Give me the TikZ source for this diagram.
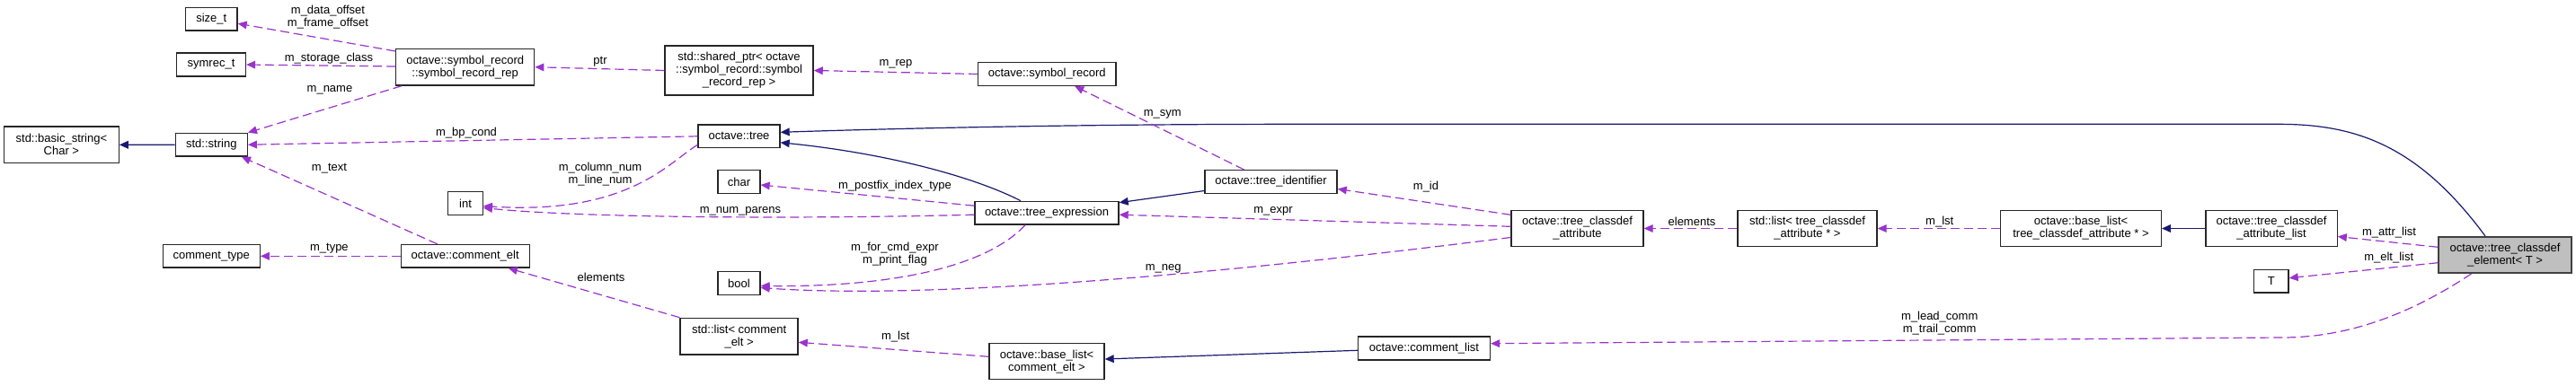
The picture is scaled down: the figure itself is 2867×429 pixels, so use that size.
\documentclass[tikz,border=0pt]{standalone}
\usepackage{fontspec}
\setmainfont{Liberation Sans}
\usetikzlibrary{arrows.meta,calc}

\definecolor{usecol}{HTML}{9A32CD}
\definecolor{inhcol}{HTML}{191970}

\tikzset{
    cls/.style={draw=black!85, line width=1pt, fill=white, align=center,
        inner sep=0pt, minimum height=#1*0.75pt},
    cls/.default=25.7,
    wd/.style={minimum width=#1*0.75pt},
    lbl/.style={inner sep=0pt, align=center},
    uses/.style={usecol, line width=0.9pt, dash pattern=on 7.5pt off 3.75pt,
        -{Triangle[length=7.5pt,width=6.5pt]}},
    inherits/.style={inhcol, line width=0.9pt,
        -{Triangle[length=7.5pt,width=6.5pt]}}
}

\begin{document}
\begin{tikzpicture}[x=0.75pt, y=-0.75pt, font=\fontsize{9.75}{10.5}\selectfont]

    \useasboundingbox (0,0) rectangle (2867,429);

    % Classes, one column after the other
    \node[cls, wd=127.6, cls=40.7] (bstr) at (68.4,161.3) {std::basic\_string\textless\\Char \textgreater};

    \node[cls, wd=57.4] (sizet) at (235.3,21.2) {size\_t};
    \node[cls, wd=77] (symrect) at (235,72) {symrec\_t};
    \node[cls, wd=80] (string) at (235.3,161.2) {std::string};
    \node[cls, wd=108] (ctype) at (235.2,285.3) {comment\_type};

    \node[cls, wd=154, cls=40.7] (rep) at (517.7,74.7) {octave::symbol\_record\\::symbol\_record\_rep};
    \node[cls, wd=38.6] (int) at (518,226.5) {int};
    \node[cls, wd=143] (celt) at (517.7,285.3) {octave::comment\_elt};

    \node[cls, wd=165, cls=55] (shared) at (822.6,78.5) {std::shared\_ptr\textless{} octave\\::symbol\_record::symbol\\\_record\_rep \textgreater};
    \node[cls, wd=91] (tree) at (822.5,151.8) {octave::tree};
    \node[cls, wd=47] (char) at (822.5,202.5) {char};
    \node[cls, wd=47] (bool) at (822.5,315.5) {bool};
    \node[cls, wd=131, cls=40.7] (lce) at (822.6,374.7) {std::list\textless{} comment\\\_elt \textgreater};

    \node[cls, wd=153.4] (symrec) at (1165.2,82.5) {octave::symbol\_record};
    \node[cls, wd=160] (texpr) at (1165,237.2) {octave::tree\_expression};
    \node[cls, wd=128, cls=40] (blc) at (1165,402.7) {octave::base\_list\textless\\comment\_elt \textgreater};

    \node[cls, wd=147] (tid) at (1414.6,202.5) {octave::tree\_identifier};
    \node[cls, wd=147] (clist) at (1585,388) {octave::comment\_list};

    \node[cls, wd=147, cls=40.4] (tca) at (1755.5,254.5) {octave::tree\_classdef\\\_attribute};
    \node[cls, wd=155, cls=40.4] (ltca) at (2011.5,254.5) {std::list\textless{} tree\_classdef\\\_attribute * \textgreater};
    \node[cls, wd=178.6, cls=40.4] (bltca) at (2316,254.5) {octave::base\_list\textless\\tree\_classdef\_attribute * \textgreater};
    \node[cls, wd=146.3, cls=40.4] (tcal) at (2528,254.5) {octave::tree\_classdef\\\_attribute\_list};
    \node[cls, wd=38.5] (T) at (2527.8,313.2) {T};

    \node[cls, wd=147.3, cls=40, fill=black!25, draw=black!75, line width=1.5pt] (elem) at (2788,284) {octave::tree\_classdef\\\_element\textless{} T \textgreater};

    % Inheritance
    \draw[inherits] (string.west) -- (bstr.east);
    \draw[inherits] ($(texpr.north)+(-29,0)$) .. controls (1080,195) and (980,170) .. ($(tree.east)+(0,7)$);
    \draw[inherits] ($(tid.west)+(0,10)$) -- ($(texpr.north east)+(0,2)$);
    \draw[inherits] ($(elem.north)+(-22,0)$) .. controls (2690,160) and (2620,138.3) .. (2535,138.3)
        -- (1450,138.3) .. controls (1200,138.3) and (1000,143) .. ($(tree.east)+(0,-4.5)$);
    \draw[inherits] ($(clist.west)+(0,2.3)$) -- ($(blc.east)+(0,-2.7)$);
    \draw[inherits] (tcal.west) -- (bltca.east);

    % Members
    \draw[uses] ($(rep.west)+(0,-17.7)$) -- ($(sizet.east)+(0,5)$);
    \draw[uses] ($(rep.west)+(0,-0.7)$) -- (symrect.east);
    \draw[uses] ($(rep.south west)+(7,0)$) -- (string.north east);
    \draw[uses] (shared.west) -- (rep.east);
    \draw[uses] (symrec.west) -- (shared.east);
    \draw[uses] (tree.west) -- (string.east);
    \draw[uses] ($(tree.south west)+(0,-4)$) .. controls (745,180) and (700,240) .. ($(int.east)+(0,3)$);
    \draw[uses] ($(texpr.west)+(0,2)$) .. controls (900,244) and (650,243) .. ($(int.east)+(0,5)$);
    \draw[uses] ($(texpr.west)+(0,-8)$) -- ($(char.east)+(0,3.5)$);
    \draw[uses] ($(texpr.south)+(-24,0)$) .. controls (1100,295) and (1000,320) .. ($(bool.east)+(0,3)$);
    \draw[uses] ($(tca.west)+(0,10)$) .. controls (1400,300) and (1050,335) .. ($(bool.east)+(0,5)$);
    \draw[uses] ($(tid.north)+(-30,0)$) -- ($(symrec.south)+(31,0)$);
    \draw[uses] ($(tca.west)+(0,-15.2)$) -- ($(tid.east)+(0,8)$);
    \draw[uses] ($(tca.west)+(0,-2.2)$) -- ($(texpr.east)+(0,2)$);
    \draw[uses] (ltca.west) -- (tca.east);
    \draw[uses] (bltca.west) -- (ltca.east);
    \draw[uses] ($(elem.west)+(0,-8.7)$) -- ($(tcal.east)+(0,9)$);
    \draw[uses] ($(elem.west)+(0,8.7)$) -- ($(T.east)+(0,-3.5)$);
    \draw[uses] ($(elem.south)+(-37.5,0)$) .. controls (2690,345) and (2620,376) .. (2540,376) -- ($(clist.east)+(0,-5.3)$);
    \draw[uses] ($(celt.north)+(-31,0)$) -- ($(string.south east)+(-7,0)$);
    \draw[uses] (celt.west) -- (ctype.east);
    \draw[uses] (lce.north west) -- ($(celt.south east)+(-24,0)$);
    \draw[uses] ($(blc.west)+(0,-5.4)$) -- ($(lce.east)+(0,6.6)$);

    % Member names
    \node[lbl] (l-offset) at (365,19) {m\_data\_offset\\m\_frame\_offset};
    \node[lbl] (l-storage) at (366,65) {m\_storage\_class};
    \node[lbl] (l-name) at (367,100) {m\_name};
    \node[lbl] (l-ptr) at (668,69) {ptr};
    \node[lbl] (l-rep) at (997,71.7) {m\_rep};
    \node[lbl] (l-bpcond) at (519,147.7) {m\_bp\_cond};
    \node[lbl] (l-num) at (668,193.7) {m\_column\_num\\m\_line\_num};
    \node[lbl] (l-text) at (366.5,187.7) {m\_text};
    \node[lbl] (l-type) at (366.4,276.7) {m\_type};
    \node[lbl] (l-elts) at (669,308.7) {elements};
    \node[lbl] (l-sym) at (1293.7,127.7) {m\_sym};
    \node[lbl] (l-postfix) at (996,206.7) {m\_postfix\_index\_type};
    \node[lbl] (l-parens) at (824,235) {m\_num\_parens};
    \node[lbl] (l-flags) at (996,283) {m\_for\_cmd\_expr\\m\_print\_flag};
    \node[lbl] (l-neg) at (1294.7,299) {m\_neg};
    \node[lbl] (l-lst) at (996.6,374.7) {m\_lst};
    \node[lbl] (l-id) at (1587,207.7) {m\_id};
    \node[lbl] (l-expr) at (1417,235) {m\_expr};
    \node[lbl] (l-attrs) at (1883,246.7) {elements};
    \node[lbl] (l-lst2) at (2158.7,246.7) {m\_lst};
    \node[lbl] (l-attrlist) at (2659,258.7) {m\_attr\_list};
    \node[lbl] (l-eltlist) at (2658.7,287.3) {m\_elt\_list};
    \node[lbl] (l-comm) at (2158.7,360) {m\_lead\_comm\\m\_trail\_comm};

\end{tikzpicture}
\end{document}
